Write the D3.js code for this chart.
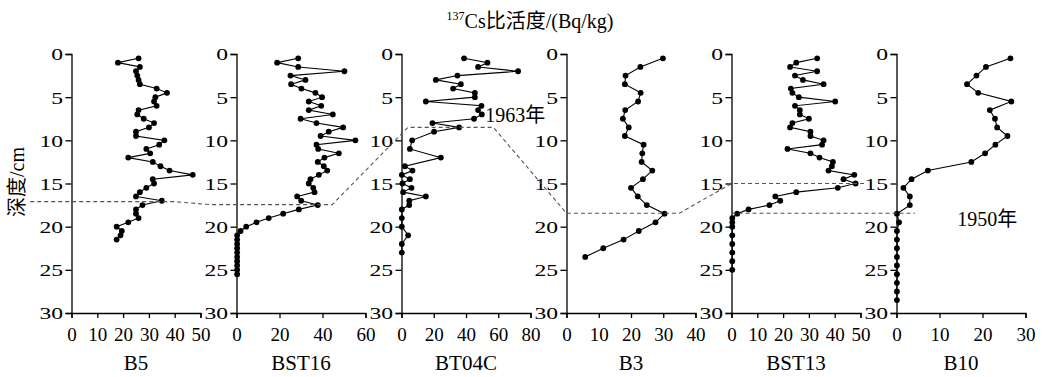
<!DOCTYPE html>
<html><head><meta charset="utf-8">
<script src="https://cdn.jsdelivr.net/npm/d3@7"></script>
<style>body{margin:0;background:#fff}svg{display:block}text{font-family:"Liberation Serif","Times New Roman",Tinos,"DejaVu Serif","Noto Sans CJK SC",serif;fill:#000}</style>
</head><body><svg id="c" width="1044" height="377"></svg>
<script>
const panelNames = ["B5","BST16","BT04C","B3","BST13","B10"];
const xMax = [50,60,80,40,50,30];
const xTicks = [[0,10,20,30,40,50],[0,20,40,60],[0,20,40,60,80],[0,10,20,30,40],[0,10,20,30,40,50],[0,10,20,30]];
const depthTicks = [0,5,10,15,20,25,30];

const b5Depth = [0.5,1,1.5,2,2.5,3,3.5,4,4.5,5,5.5,6,6.5,7,7.5,8,8.5,9,9.5,10,10.5,11,11.5,12,12.5,13,13.5,14,14.5,15,15.5,16,16.5,17,17.5,18,18.5,19,19.5,20,20.5,21,21.5];
const b5Value = [26,18,26.5,25,25.5,26,26.5,33,37,32.5,32,33,26,25.5,28,32,30,25,25,36,34,29,30.5,22,31.5,34.5,38,47,31.5,32,29,26.5,25,35,27.5,25,25,26,22,17.5,19.5,19,17.5];

const bst16Depth = [0.5,1,1.5,2,2.5,3,3.5,4,4.5,5,5.5,6,6.5,7,7.5,8,8.5,9,9.5,10,10.5,11,11.5,12,12.5,13,13.5,14,14.5,15,15.5,16,16.5,17,17.5,18,18.5,19,19.5,20,20.5,21,21.5,22,22.5,23,23.5,24,24.5,25,25.5];
const bst16Value = [28.7,18.9,28.7,50.2,25.1,32.1,25.4,30.2,36.7,39.8,33.6,39.4,33.6,44.8,29.8,37.2,49.6,42.9,39.1,55.3,37.2,38,47.6,40.9,37.8,40.6,42.2,38.3,34.4,33.6,35.7,36.3,28.2,30.1,37.8,29,21.7,15,9.3,4.5,1.9,0.3,0.3,0.3,0.3,0.3,0.3,0.3,0.3,0.3,0.3];

const bt04cDepth = [0.5,1,1.5,2,2.5,3,3.5,4,4.5,5,5.5,6,6.5,7,7.5,8,8.5,9,10,11,12,13,13.5,14,14.5,15,15.5,16,16.5,17,17.5,18,19,20,21,22,23];
const bt04cValue = [38.8,53.3,47.5,72.3,34.7,21.3,36.8,32,45.5,45.5,15.1,49.6,47.5,49.8,45,19.2,35.7,20.2,6.6,5.2,24.4,2.1,6.8,0.2,5.2,0.6,6.2,1,15.1,4.8,4.8,0.2,0.2,0.2,4.1,0.2,0.2];

const b3Depth = [0.5,1.5,2.5,3.5,4.5,5.5,6.5,7.5,8.5,9.5,10.5,11.5,12.5,13.5,14.5,15.5,16.5,17.5,18.5,19.5,20.5,21.5,22.5,23.5];
const b3Value = [29.9,22.9,18.3,18.1,23,22.2,18.2,17.5,19.3,18.1,23.9,23.5,23.3,26.6,23.7,20,22.1,24.9,30.4,27.6,22.4,17.7,11.4,5.8];

const bst13Depth = [0.5,1,1.5,2,2.5,3,3.5,4,4.5,5,5.5,6,6.5,7,7.5,8,8.5,9,9.5,10,10.5,11,11.5,12,12.5,13,13.5,14,14.5,15,15.5,16,16.5,17,17.5,18,18.5,19,19.5,20,21,22,23,24,25];
const bst13Value = [33.2,25.1,22.7,33.2,24.6,27.7,35.7,23,23.6,26.1,40.2,24.6,26.5,26.5,30,23.6,22.7,30.6,30.6,35.7,35.1,21.7,30.6,34.1,39.3,38.9,37.6,47.6,43.4,48.1,41.2,25.1,17,18.9,14.7,6.6,2.2,0.3,0.3,0.3,0.3,0.3,0.3,0.3,0.3];

const b10Depth = [0.5,1.5,2.5,3.5,4.5,5.5,6.5,7.5,8.5,9.5,10.5,11.5,12.5,13.5,14.5,15.5,16.5,17.5,18.5,19.5,20.5,21.5,22.5,23.5,24.5,25.5,26.5,27.5,28.5];
const b10Value = [26.5,20.8,18.6,16.4,19,26.7,21.7,22.9,23.4,25.8,23,20.6,17.4,7.3,3.5,1.6,3.1,3.1,0.1,0.6,0.1,0.1,0.1,0.1,0.1,0.1,0.1,0.1,0.1];

const depths = [b5Depth,bst16Depth,bt04cDepth,b3Depth,bst13Depth,b10Depth];
const values = [b5Value,bst16Value,bt04cValue,b3Value,bst13Value,b10Value];

// dashed marker lines: [panel index, value, depth]
const markerLineA = [[0,-16,17.1],[0,40,17.1],[1,-12,17.45],[1,44.5,17.45],[2,4,8.5],[2,57,8.5],[3,0,18.45],[3,35,18.45],[4,0,15],[4,51.5,15]];
const markerLineB = [[4,0,18.45],[5,4.3,18.45]];
const yearLabels = [{panel:2,value:52,depth:7.85,text:"1963年"},{panel:5,value:14.1,depth:19.9,text:"1950年"}];

const svg = d3.select("#c");
const plotTop = 54, plotBottom = 313, pw = 129, left0 = 71.5, step = 165;
const yStretch = 1.35;
const y = d3.scaleLinear().domain([0,30]).range([plotTop,plotBottom]);
const xs = panelNames.map((n,i)=>d3.scaleLinear().domain([0,xMax[i]]).range([left0+i*step, left0+i*step+pw]));

panelNames.forEach((name,i)=>{
  const x = xs[i];
  const g = svg.append("g");
  const ya = g.append("g").attr("transform",`translate(${x(0)},0)`)
    .call(d3.axisLeft(y).tickValues(depthTicks).tickSize(6).tickPadding(2));
  const xa = g.append("g").attr("transform",`translate(0,${plotBottom})`)
    .call(d3.axisBottom(x).tickValues(xTicks[i]).tickSize(5).tickPadding(10));
  [ya,xa].forEach(a=>{a.attr("font-family",null);a.selectAll("path,line").attr("stroke","#000").attr("stroke-width",1.3);});
  ya.selectAll("text").attr("font-size",17.5).attr("dy","0.34em")
    .attr("x",-8.5/yStretch).attr("transform",`scale(${yStretch},1)`);
  xa.selectAll("text").attr("font-size",19);
  const pts = depths[i].map((d,k)=>[values[i][k],d]);
  g.append("path").datum(pts).attr("fill","none").attr("stroke","#000").attr("stroke-width",1.1)
    .attr("d",d3.line().x(p=>x(p[0])).y(p=>y(p[1])));
  g.selectAll("circle").data(pts).join("circle").attr("cx",p=>x(p[0])).attr("cy",p=>y(p[1])).attr("r",2.9).attr("fill","#000");
  g.append("text").attr("x",(x.range()[0]+x.range()[1])/2).attr("y",370).attr("text-anchor","middle")
    .attr("font-size",21).text(name);
});

const ml = d3.line().x(p=>xs[p[0]](p[1])).y(p=>y(p[2]));
[markerLineA,markerLineB].forEach(L=>svg.append("path").attr("d",ml(L)).attr("fill","none")
  .attr("stroke","#555").attr("stroke-width",1.1).attr("stroke-dasharray","4,3"));

yearLabels.forEach(l=>svg.append("text").attr("x",xs[l.panel](l.value)).attr("y",y(l.depth))
  .attr("font-size",20).text(l.text));

const t = svg.append("text").attr("x",530).attr("y",28).attr("text-anchor","middle").attr("font-size",20);
t.append("tspan").attr("font-size",12).attr("dy","-8").text("137");
t.append("tspan").attr("dy","8").text("Cs比活度/(Bq/kg)");

svg.append("text").attr("transform","translate(24,182) rotate(-90)").attr("text-anchor","middle").attr("font-size",20).text("深度/cm");
</script></body></html>
